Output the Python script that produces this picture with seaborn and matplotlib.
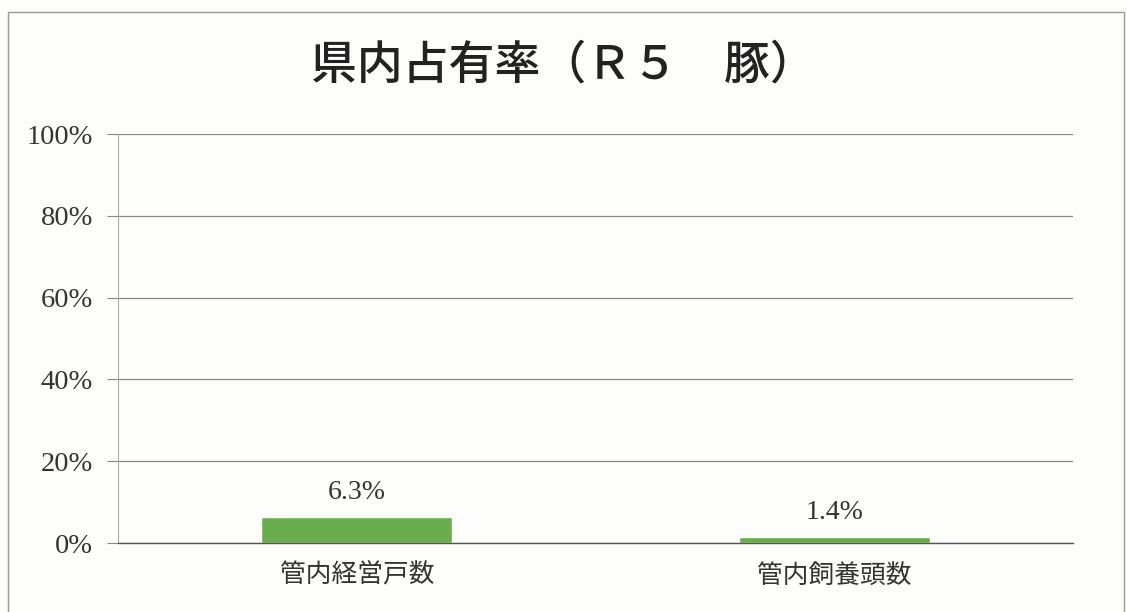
import seaborn as sns
import matplotlib.pyplot as plt
import matplotlib.patches as mpatches
import pandas as pd

# データ
categories = ["管内経営戸数", "管内飼養頭数"]
values = [6.3, 1.4]
value_labels = ["6.3%", "1.4%"]
yticks = [0, 20, 40, 60, 80, 100]
ytick_labels = ["0%", "20%", "40%", "60%", "80%", "100%"]
title = "県内占有率（Ｒ５　豚）"

sns.set_theme(style="white")
plt.rcParams["font.family"] = ["Liberation Serif", "Noto Sans CJK JP", "DejaVu Sans"]

df = pd.DataFrame({"cat": categories, "val": values})

fig = plt.figure(figsize=(11.27, 6.12), dpi=100, facecolor="#fdfdfb")
ax = fig.add_axes([0.1047, 0.1127, 0.8475, 0.6683])
ax.set_facecolor("#fdfdfb")

sns.barplot(data=df, x="cat", y="val", color="#6aad4c", width=0.4, ax=ax,
            saturation=1)

ax.set_ylim(0, 100)
ax.set_xlim(-0.5, 1.5)
ax.set_yticks(yticks)
ax.set_yticklabels(ytick_labels, fontsize=20.5, color="#333333")
ax.set_xticks(range(len(categories)))
ax.set_xticklabels(categories, fontsize=18.5, color="#333333",
                   family=["Noto Sans CJK JP"])
ax.set_xticks([-0.5, 0.5, 1.5], minor=True)
ax.tick_params(axis="x", which="major", length=0, pad=14)
ax.tick_params(axis="x", which="minor", length=6, color="#777777", width=0.8)
ax.tick_params(axis="y", length=8, color="#888888", width=0.8, pad=10, left=True)

ax.grid(axis="y", color="#888888", linewidth=0.9)
ax.set_axisbelow(True)
for s in ["top", "right"]:
    ax.spines[s].set_visible(False)
ax.spines["left"].set_color("#aaaaaa")
ax.spines["left"].set_linewidth(0.8)
ax.spines["bottom"].set_color("#555555")
ax.spines["bottom"].set_linewidth(1.0)
ax.set_xlabel("")
ax.set_ylabel("")

for i, (v, lab) in enumerate(zip(values, value_labels)):
    ax.annotate(lab, (i, v), xytext=(0, 9), textcoords="offset points",
                ha="center", va="bottom", fontsize=20, color="#333333")

fig.text(0.5, 0.893, title, ha="center", va="center", fontsize=33,
         color="#222222", family=["Noto Sans CJK JP"], weight="medium")

# 外枠
fig.patches.append(mpatches.Rectangle((0.007, -0.01), 0.99, 0.99,
                                      transform=fig.transFigure, fill=False,
                                      edgecolor="#999999", linewidth=1.0))

fig.savefig("out.png", dpi=100, facecolor=fig.get_facecolor())
